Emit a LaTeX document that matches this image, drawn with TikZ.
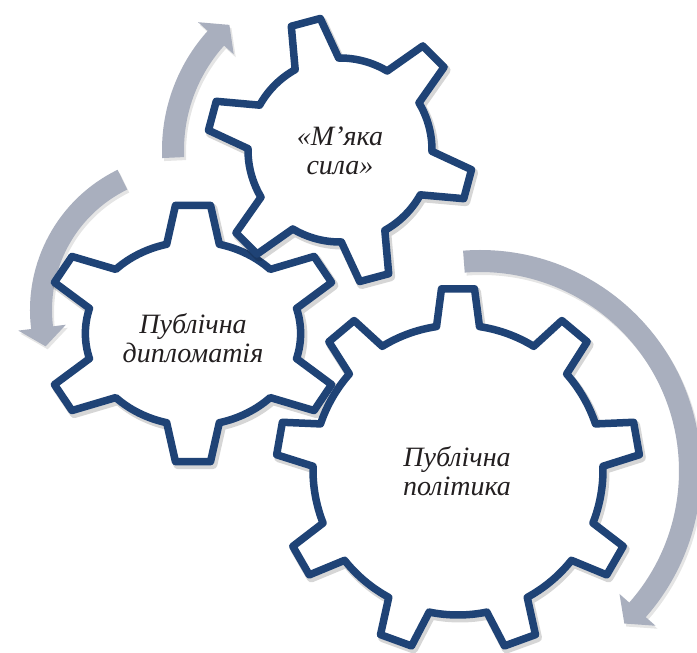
\documentclass[tikz,border=0pt]{standalone}
\usepackage{fontspec}
\setmainfont{Liberation Serif}
\definecolor{gearblue}{RGB}{31,67,118}
\definecolor{arrowgray}{RGB}{169,175,190}
\definecolor{textdark}{RGB}{35,31,32}
\tikzset{
  gearline/.style={draw=gearblue, line width=7.5pt, line join=round, fill=white},
  gearshadow/.style={draw=black, draw opacity=0.16, line width=9pt, line join=round},
  arrowbody/.style={fill=arrowgray},
  arrowshadow/.style={fill=black, fill opacity=0.10},
  geartext/.style={font=\itshape\fontsize{28}{29}\selectfont, text=textdark, align=center, inner sep=0pt},
}
% #1 style, #2 teeth, #3 offset angle, #4 tip radius, #5 root radius, #6 tip half width, #7 base half width
\newcommand{\mygear}[7]{%
  \pgfmathsetmacro\gstep{360/#2}%
  \pgfmathsetmacro\ght{asin(#6/#4)}%
  \pgfmathsetmacro\ghb{asin(#7/#5)}%
  \pgfmathtruncatemacro\glast{#2-1}%
  \path[#1] ({#3-\ghb}:#5) \foreach \gi in {0,...,\glast} {
     -- ({#3+\gi*\gstep-\ght}:#4) -- ({#3+\gi*\gstep+\ght}:#4) -- ({#3+\gi*\gstep+\ghb}:#5)
     arc[start angle={#3+\gi*\gstep+\ghb}, end angle={#3+(\gi+1)*\gstep-\ghb}, radius=#5]
  } -- cycle;
}
% #1 style, #2 centre radius, #3 start angle, #4 head angle, #5 direction (+1 ccw, -1 cw)
\newcommand{\myarrow}[5]{%
  \pgfmathsetmacro\aro{#2+11}%
  \pgfmathsetmacro\ari{#2-11}%
  \pgfmathsetmacro\aho{#2+24}%
  \pgfmathsetmacro\ahi{#2-24}%
  \pgfmathsetmacro\atip{#4+(#5)*19/#2*180/pi}%
  \path[#1] (#3:\aro) arc[start angle=#3, end angle=#4, radius=\aro]
    -- (#4:\aho) -- (\atip:#2) -- (#4:\ahi) -- (#4:\ari)
    arc[start angle=#4, end angle=#3, radius=\ari] -- cycle;
}
\begin{document}
\begin{tikzpicture}[x=1pt, y=1pt]
  \fill[white] (0,0) rectangle (697,653);
  \useasboundingbox (0,0) rectangle (697,653);

  % arrows
  \begin{scope}[shift={(340,503)}]
    \myarrow{arrowshadow, xshift=2pt, yshift=-3pt}{167}{182.6}{138}{-1}
    \myarrow{arrowbody}{167}{182.6}{138}{-1}
  \end{scope}
  \begin{scope}[shift={(186,343)}]
    \myarrow{arrowshadow, xshift=2pt, yshift=-3pt}{145}{116}{187}{1}
    \myarrow{arrowbody}{145}{116}{187}{1}
  \end{scope}
  \begin{scope}[shift={(480,182)}]
    \myarrow{arrowshadow, xshift=2pt, yshift=-3pt}{210}{94.4}{-41.4}{-1}
    \myarrow{arrowbody}{210}{94.4}{-41.4}{-1}
  \end{scope}

  % left gear
  \begin{scope}[shift={(193,319.5)}, xscale=1.17]
    \mygear{gearshadow, xshift=2pt, yshift=-3pt}{6}{90}{129}{92}{15}{22.5}
    \mygear{gearline}{6}{90}{129}{92}{15}{22.5}
  \end{scope}
  % top gear
  \begin{scope}[shift={(340,503)}]
    \mygear{gearshadow, xshift=2pt, yshift=-3pt}{6}{45}{133}{92}{15}{22.5}
    \mygear{gearline}{6}{45}{133}{92}{15}{22.5}
  \end{scope}
  % big gear
  \begin{scope}[shift={(458,183)}]
    \mygear{gearshadow, xshift=2pt, yshift=-3pt}{9}{90}{182}{145}{16.5}{21.5}
    \mygear{gearline}{9}{90}{182}{145}{16.5}{21.5}
  \end{scope}

  \node[geartext] (soft) at (340,502) {«М’яка\\ сила»};
  \node[geartext] (diplo) at (193,315) {Публічна\\ дипломатія};
  \node[geartext] (policy) at (457,182) {Публічна\\ політика};
\end{tikzpicture}
\end{document}
